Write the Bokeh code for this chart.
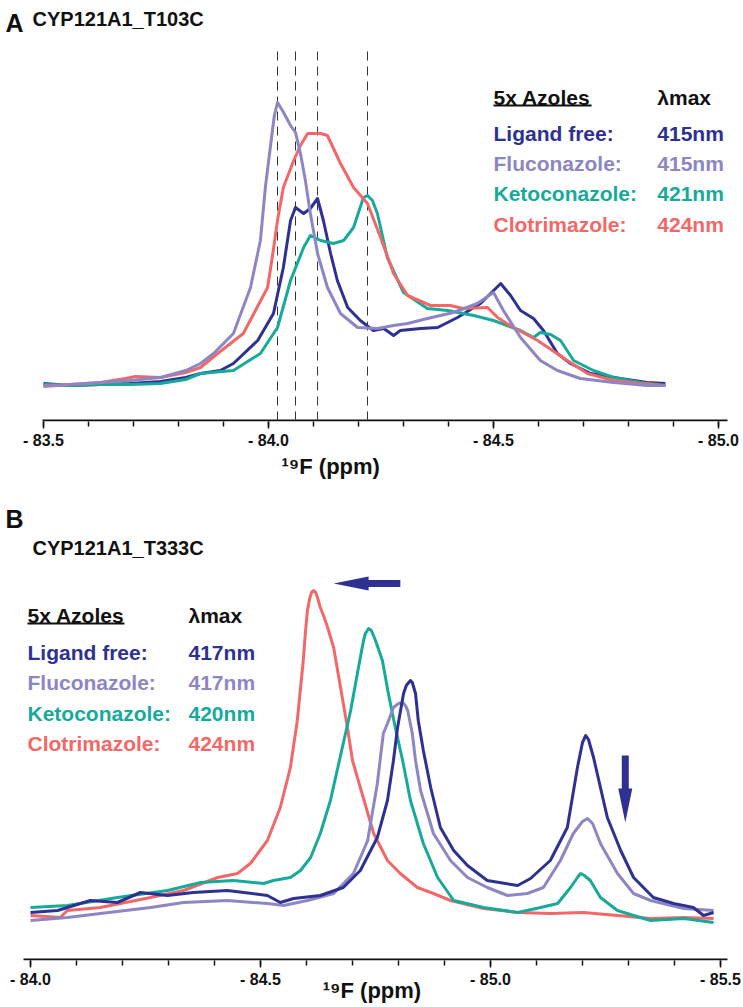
from bokeh.plotting import figure
from bokeh.layouts import column
from bokeh.models import Range1d, FixedTicker, CustomJSTickFormatter, Label, Title
from bokeh.embed import file_html
from bokeh.resources import INLINE

# ---------------- colours ----------------
C_FREE = "#2e3192"
C_FLU = "#8c86c4"
C_KETO = "#17aa9a"
C_CLOT = "#f26868"

# ---------------- Panel A data (CYP121A1_T103C) ----------------
a_flu_ppm = [-83.500, -83.560, -83.627, -83.693, -83.760, -83.816, -83.849, -83.878, -83.922, -83.960,
             -83.982, -83.993, -84.004, -84.013, -84.020, -84.031, -84.049, -84.060, -84.071, -84.082,
             -84.093, -84.109, -84.131, -84.160, -84.198, -84.242, -84.278, -84.309, -84.353, -84.411,
             -84.464, -84.500, -84.522, -84.560, -84.604, -84.642, -84.693, -84.767, -84.842, -84.882]
a_flu_int = [35, 36, 38, 40, 43, 50, 57, 67, 87, 133, 180, 233, 273, 305, 318, 310, 295, 288, 267, 240,
             207, 167, 133, 107, 93, 92, 95, 97, 102, 108, 117, 128, 110, 83, 60, 50, 42, 38, 35, 35]

a_clot_ppm = [-83.500, -83.560, -83.627, -83.682, -83.704, -83.760, -83.816, -83.849, -83.887, -83.944,
              -83.971, -83.998, -84.009, -84.020, -84.033, -84.056, -84.071, -84.087, -84.116, -84.131,
              -84.160, -84.189, -84.220, -84.249, -84.278, -84.309, -84.360, -84.404, -84.433, -84.487,
              -84.509, -84.544, -84.598, -84.664, -84.709, -84.767, -84.827, -84.882]
a_clot_int = [34, 36, 38, 42, 44, 43, 48, 53, 67, 87, 110, 133, 165, 200, 233, 260, 275, 287, 287, 285,
              257, 233, 217, 183, 147, 125, 115, 115, 112, 113, 103, 93, 80, 60, 47, 40, 37, 35]

a_free_ppm = [-83.500, -83.560, -83.627, -83.693, -83.760, -83.816, -83.849, -83.893, -83.922, -83.976,
              -84.011, -84.033, -84.049, -84.060, -84.078, -84.093, -84.109, -84.122, -84.138, -84.153,
              -84.176, -84.204, -84.233, -84.256, -84.278, -84.293, -84.338, -84.376, -84.420, -84.471,
              -84.516, -84.538, -84.560, -84.589, -84.611, -84.642, -84.671, -84.716, -84.782, -84.842,
              -84.882]
a_free_int = [37, 35, 36, 37, 39, 43, 47, 50, 57, 80, 107, 153, 200, 213, 207, 212, 222, 200, 167, 140,
              113, 100, 90, 92, 85, 90, 92, 93, 103, 117, 137, 125, 110, 102, 90, 67, 57, 47, 42, 38, 37]

a_keto_ppm = [-83.500, -83.560, -83.627, -83.693, -83.760, -83.816, -83.849, -83.922, -83.982, -84.020,
              -84.049, -84.078, -84.093, -84.116, -84.144, -84.167, -84.189, -84.211, -84.220, -84.231,
              -84.242, -84.264, -84.300, -84.353, -84.398, -84.456, -84.500, -84.560, -84.589, -84.604,
              -84.627, -84.649, -84.678, -84.722, -84.767, -84.827, -84.882]
a_keto_int = [36, 35, 36, 36, 37, 41, 47, 50, 67, 93, 140, 173, 185, 180, 177, 180, 193, 223, 225, 220,
              207, 163, 128, 112, 110, 105, 100, 90, 83, 88, 86, 80, 60, 50, 43, 38, 35]

a_marker_ppm = [-84.020, -84.060, -84.109, -84.220]
a_axis_span = [-83.4978, -85.02]

a_names = ["Ligand free:", "Fluconazole:", "Ketoconazole:", "Clotrimazole:"]
a_lmax = ["415nm", "415nm", "421nm", "424nm"]

# ---------------- Panel B data (CYP121A1_T333C) ----------------
b_clot_ppm = [-84.000, -84.065, -84.080, -84.152, -84.261, -84.333, -84.407, -84.450, -84.478, -84.515,
              -84.543, -84.565, -84.580, -84.593, -84.598, -84.602, -84.607, -84.611, -84.615, -84.620,
              -84.624, -84.630, -84.637, -84.646, -84.659, -84.674, -84.689, -84.700, -84.717, -84.746,
              -84.776, -84.804, -84.841, -84.876, -84.913, -84.985, -85.059, -85.130, -85.202, -85.276,
              -85.348, -85.420, -85.485]
b_clot_int = [44, 42, 49, 52, 62, 69, 82, 86, 96, 119, 152, 192, 239, 299, 329, 349, 361, 367, 369, 367,
              362, 352, 344, 332, 312, 272, 232, 199, 172, 126, 99, 86, 72, 66, 59, 51, 47, 46, 47, 44,
              41, 42, 41]

b_keto_ppm = [-84.000, -84.080, -84.189, -84.298, -84.370, -84.441, -84.507, -84.528, -84.565, -84.587,
              -84.609, -84.630, -84.652, -84.674, -84.696, -84.713, -84.724, -84.728, -84.735, -84.741,
              -84.750, -84.765, -84.778, -84.793, -84.809, -84.826, -84.854, -84.885, -84.920, -84.985,
              -85.059, -85.109, -85.146, -85.174, -85.189, -85.196, -85.204, -85.217, -85.239, -85.276,
              -85.311, -85.348, -85.420, -85.485]
b_keto_int = [52, 54, 62, 69, 77, 79, 76, 79, 82, 89, 102, 126, 159, 204, 249, 292, 319, 326, 331, 329,
              319, 299, 266, 232, 199, 159, 116, 82, 59, 52, 47, 52, 56, 72, 82, 86, 84, 79, 62, 49, 44,
              39, 41, 37]

b_free_ppm = [-84.000, -84.059, -84.130, -84.189, -84.239, -84.298, -84.354, -84.428, -84.515, -84.543,
              -84.572, -84.630, -84.680, -84.717, -84.754, -84.776, -84.789, -84.798, -84.811, -84.817,
              -84.826, -84.830, -84.837, -84.843, -84.854, -84.870, -84.891, -84.920, -84.950, -84.993,
              -85.059, -85.087, -85.130, -85.167, -85.189, -85.200, -85.207, -85.213, -85.224, -85.254,
              -85.283, -85.311, -85.354, -85.398, -85.441, -85.463, -85.485]
b_free_int = [47, 49, 59, 57, 67, 64, 67, 69, 64, 57, 61, 64, 72, 89, 122, 159, 199, 232, 266, 274,
              279, 277, 266, 239, 209, 172, 132, 109, 94, 79, 74, 81, 99, 132, 192, 217, 224, 220, 202,
              142, 109, 82, 62, 56, 52, 44, 47]

b_flu_ppm = [-84.000, -84.080, -84.152, -84.261, -84.333, -84.428, -84.515, -84.550, -84.602, -84.659,
             -84.702, -84.733, -84.754, -84.767, -84.776, -84.789, -84.800, -84.809, -84.815, -84.820,
             -84.830, -84.837, -84.848, -84.876, -84.913, -84.950, -84.993, -85.037, -85.080, -85.115,
             -85.152, -85.180, -85.200, -85.211, -85.222, -85.239, -85.276, -85.311, -85.348, -85.420,
             -85.485]
b_flu_int = [39, 42, 46, 52, 57, 59, 56, 54, 59, 66, 86, 119, 176, 226, 236, 252, 256, 257, 254, 249,
             226, 199, 169, 126, 99, 82, 72, 64, 66, 72, 99, 126, 138, 141, 136, 116, 86, 66, 59, 51, 49]

b_axis_span = [-83.98478, -85.51522]

b_names = ["Ligand free:", "Fluconazole:", "Ketoconazole:", "Clotrimazole:"]
b_lmax = ["417nm", "417nm", "420nm", "424nm"]

COLORS = [C_FREE, C_FLU, C_KETO, C_CLOT]
BOLD = "Liberation Sans"
XLABEL = "\u00b9\u2079F (ppm)"


def make_axis(p, majors, minors, span):
    ax = p.xaxis[0]
    ax.ticker = FixedTicker(ticks=majors, minor_ticks=minors)
    ax.formatter = CustomJSTickFormatter(code="return '- ' + Math.abs(tick).toFixed(1);")
    ax.axis_line_color = None
    ax.major_tick_line_width = 1.5
    ax.minor_tick_line_width = 1.5
    ax.major_tick_line_color = "#111111"
    ax.minor_tick_line_color = "#111111"
    ax.major_tick_out = 7
    ax.major_tick_in = 0
    ax.minor_tick_out = 5
    ax.minor_tick_in = 0
    ax.major_label_standoff = 3
    ax.major_label_text_font = BOLD
    ax.major_label_text_font_style = "bold"
    ax.major_label_text_font_size = "16px"
    ax.major_label_text_color = "#111111"
    # visible axis line only over the spectral window
    p.segment(x0=span[0], y0=0, x1=span[1], y1=0, line_color="#111111", line_width=2)
    return ax


def lab(p, x, y, text, size, color="#111111", align="left"):
    p.add_layout(Label(x=x, y=y, text=text, text_font=BOLD, text_font_style="bold",
                       text_font_size=size, text_color=color, text_align=align,
                       text_baseline="alphabetic"))


LEG = "21px"

# ================= Panel A =================
pA = figure(width=743, height=500, output_backend="svg", toolbar_location=None, title=None,
            x_range=Range1d(-83.40444, -85.05556), y_range=Range1d(-1, 420),
            y_axis_location=None, min_border_left=0, min_border_right=0,
            min_border_top=0, min_border_bottom=79)
pA.outline_line_color = None
pA.xgrid.visible = False
pA.ygrid.visible = False
make_axis(pA, [-83.5, -84.0, -84.5, -85.0],
          [round(-83.5 - 0.1 * i, 1) for i in range(16)], a_axis_span)
pA.add_layout(Title(text=XLABEL, align="left", offset=281, standoff=0,
                    text_font=BOLD, text_font_style="bold", text_font_size="22px",
                    text_color="#111111"), "below")

for xm in a_marker_ppm:
    pA.segment(x0=xm, y0=0, x1=xm, y1=375, line_color="#333333", line_width=1, line_dash="9 6")

for xs, ys, c in [(a_free_ppm, a_free_int, C_FREE), (a_keto_ppm, a_keto_int, C_KETO),
                  (a_clot_ppm, a_clot_int, C_CLOT), (a_flu_ppm, a_flu_int, C_FLU)]:
    pA.line(xs, ys, line_color=c, line_width=3, line_join="round")

# legend A
lab(pA, -84.5, 323, "5x Azoles", LEG)
lab(pA, -84.864, 323, "\u03bbmax", LEG)
pA.segment(x0=-84.5, y0=315, x1=-84.718, y1=315, line_color="#111111", line_width=2)
for i, (n, v) in enumerate(zip(a_names, a_lmax)):
    yb = [287, 257, 227, 196][i]
    lab(pA, -84.5, yb, n, LEG, COLORS[i])
    lab(pA, -84.864, yb, v, LEG, COLORS[i])

# titles A
lab(pA, -83.4156, 398, "A", "25px")
lab(pA, -83.4756, 402, "CYP121A1_T103C", "20px")

# ================= Panel B =================
pB = figure(width=743, height=506, output_backend="svg", toolbar_location=None, title=None,
            x_range=Range1d(-83.93478, -85.55), y_range=Range1d(-1, 459),
            y_axis_location=None, min_border_left=0, min_border_right=0,
            min_border_top=0, min_border_bottom=46)
pB.outline_line_color = None
pB.xgrid.visible = False
pB.ygrid.visible = False
axB = make_axis(pB, [-84.0, -84.5, -85.0, -85.5],
                [round(-84.0 - 0.1 * i, 1) for i in range(16)], b_axis_span)
axB.axis_label = XLABEL
axB.axis_label_text_font = BOLD
axB.axis_label_text_font_style = "bold"
axB.axis_label_text_font_size = "22px"
axB.axis_label_text_color = "#111111"
axB.axis_label_standoff = -13

for xs, ys, c in [(b_clot_ppm, b_clot_int, C_CLOT), (b_keto_ppm, b_keto_int, C_KETO),
                  (b_flu_ppm, b_flu_int, C_FLU), (b_free_ppm, b_free_int, C_FREE)]:
    pB.line(xs, ys, line_color=c, line_width=3, line_join="round")

# arrows (horizontal: shift of main peak; vertical: decrease of minor peak)
h_tail, h_base, h_tip, h_y = -84.804, -84.735, -84.659, 376
pB.patch([h_tail, h_base, h_base, h_tip, h_base, h_base, h_tail],
         [h_y + 3.5, h_y + 3.5, h_y + 7, h_y, h_y - 7, h_y - 3.5, h_y - 3.5],
         fill_color=C_FREE, line_color=None)
v_x, v_top, v_base, v_tip = -85.293, 204, 171, 137
dx_s, dx_h = 3.5 / 460, 7 / 460
pB.patch([v_x - dx_s, v_x - dx_s, v_x - dx_h, v_x, v_x + dx_h, v_x + dx_s, v_x + dx_s],
         [v_top, v_base, v_base, v_tip, v_base, v_base, v_top],
         fill_color=C_FREE, line_color=None)

# legend B
lab(pB, -83.9935, 344, "5x Azoles", LEG)
lab(pB, -84.3435, 344, "\u03bbmax", LEG)
pB.segment(x0=-83.9935, y0=336, x1=-84.2043, y1=336, line_color="#111111", line_width=2)
for i, (n, v) in enumerate(zip(b_names, b_lmax)):
    yb = [307, 277, 246, 216][i]
    lab(pB, -83.9935, yb, n, LEG, COLORS[i])
    lab(pB, -84.3435, yb, v, LEG, COLORS[i])

# titles B
lab(pB, -83.9457, 441, "B", "25px")
lab(pB, -84.0043, 412, "CYP121A1_T333C", "20px")

layout = column(pA, pB, spacing=0)
open("out.html", "w").write(file_html(layout, INLINE))
